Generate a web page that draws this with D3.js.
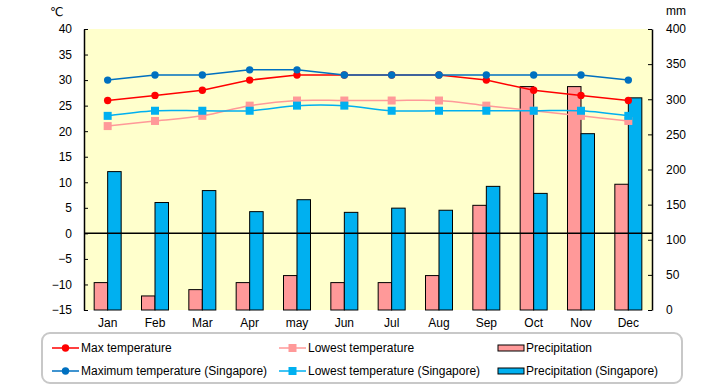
<!DOCTYPE html>
<html>
<head>
<meta charset="utf-8">
<script src="https://cdn.jsdelivr.net/npm/d3@7"></script>
<style>
  body { margin: 0; background: #fff; }
  text { font-family: "Liberation Sans", "DejaVu Sans", sans-serif; font-size: 12px; fill: #000; }
</style>
</head>
<body>
<script>
// Data
var months = ["Jan", "Feb", "Mar", "Apr", "may", "Jun", "Jul", "Aug", "Sep", "Oct", "Nov", "Dec"];
var maxTemp = [26, 27, 28, 30, 31, 31, 31, 31, 30, 28, 27, 26];
var lowTemp = [21, 22, 23, 25, 26, 26, 26, 26, 25, 24, 23, 22];
var maxTempSg = [30, 31, 31, 32, 32, 31, 31, 31, 31, 31, 31, 30];
var lowTempSg = [23, 24, 24, 24, 25, 25, 24, 24, 24, 24, 24, 23];
var precip = [39, 20, 29, 39, 49, 39, 39, 49, 149, 318, 318, 179];
var precipSg = [197, 153, 170, 140, 157, 139, 145, 142, 176, 166, 251, 302];
var tempTicks = [-15, -10, -5, 0, 5, 10, 15, 20, 25, 30, 35, 40];
var mmTicks = [0, 50, 100, 150, 200, 250, 300, 350, 400];

// Plot area
var margin = {top: 29, right: 68, bottom: 75, left: 84};
var outer_width = 720;
var outer_height = 385;
var width = outer_width - margin.left - margin.right;
var height = outer_height - margin.top - margin.bottom;

var svg = d3.select("body")
  .append("svg")
  .attr("width", outer_width)
  .attr("height", outer_height);

var g = svg.append("g")
  .attr("transform", "translate(" + margin.left + "," + margin.top + ")");

// Scales
var xScale = d3.scaleBand().domain(months).range([0, width]);
var yTemp = d3.scaleLinear().domain([-15, 40]).range([height, 0]);
var yMm = d3.scaleLinear().domain([0, 400]).range([height, 0]);
var barW = 13.5;

// background
g.append("rect")
  .attr("width", width)
  .attr("height", height)
  .attr("fill", "#ffffcc");

// Bars
function drawBars(values, color, offset) {
  g.selectAll(null)
    .data(values)
    .enter()
    .append("rect")
    .attr("x", function(d, i) { return xScale(months[i]) + xScale.bandwidth() / 2 + offset; })
    .attr("y", function(d) { return yMm(d); })
    .attr("width", barW)
    .attr("height", function(d) { return height - yMm(d); })
    .attr("fill", color)
    .attr("stroke", "#000")
    .attr("stroke-width", 1);
}
drawBars(precip, "#ff9999", -barW);
drawBars(precipSg, "#00b0f0", 0);

// zero line (category axis)
g.append("line")
  .attr("x1", 0).attr("x2", width)
  .attr("y1", yTemp(0)).attr("y2", yTemp(0))
  .attr("stroke", "#000").attr("stroke-width", 1.5);

// Axes
var leftAxis = d3.axisLeft(yTemp).tickValues(tempTicks).tickSizeInner(-4).tickSizeOuter(0).tickPadding(12);
var rightAxis = d3.axisRight(yMm).tickValues(mmTicks).tickSizeInner(-4).tickSizeOuter(0).tickPadding(14);

var la = g.append("g").call(leftAxis);
var ra = g.append("g").attr("transform", "translate(" + width + ",0)").call(rightAxis);
[la, ra].forEach(function(a) {
  a.select(".domain").attr("stroke", "#000").attr("stroke-width", 1.5);
  a.selectAll(".tick line").attr("stroke", "#000");
  a.selectAll("text").style("font-size", "12px").attr("fill", "#000");
});

// month labels
g.selectAll(".month")
  .data(months)
  .enter()
  .append("text")
  .attr("x", function(d) { return xScale(d) + xScale.bandwidth() / 2; })
  .attr("y", height + 17)
  .attr("text-anchor", "middle")
  .text(function(d) { return d; });

// units
svg.append("text").attr("x", 50).attr("y", 16).text("℃");
svg.append("text").attr("x", 666).attr("y", 15).text("mm");

// Lines
var series = [
  {name: "Max temperature", values: maxTemp, color: "#ff0000", marker: "circle", smooth: false},
  {name: "Lowest temperature", values: lowTemp, color: "#ff9999", marker: "square", smooth: true},
  {name: "Maximum temperature (Singapore)", values: maxTempSg, color: "#0070c0", marker: "circle", smooth: false},
  {name: "Lowest temperature (Singapore)", values: lowTempSg, color: "#00b0f0", marker: "square", smooth: true}
];

function xc(i) { return xScale(months[i]) + xScale.bandwidth() / 2; }

function drawMarker(sel, s, x, y) {
  if (s.marker === "circle") {
    sel.append("circle").attr("cx", x).attr("cy", y).attr("r", 3.7).attr("fill", s.color);
  } else {
    sel.append("rect").attr("x", x - 4).attr("y", y - 4).attr("width", 8).attr("height", 8).attr("fill", s.color);
  }
}

series.forEach(function(s) {
  var line = d3.line()
    .x(function(d, i) { return xc(i); })
    .y(function(d) { return yTemp(d); })
    .curve(s.smooth ? d3.curveCatmullRom.alpha(0.5) : d3.curveLinear);
  var sg = g.append("g");
  sg.append("path")
    .attr("d", line(s.values))
    .attr("fill", "none")
    .attr("stroke", s.color)
    .attr("stroke-width", 1.5);
  s.values.forEach(function(v, i) { drawMarker(sg, s, xc(i), yTemp(v)); });
});

// Legend
svg.append("rect")
  .attr("x", 42).attr("y", 333)
  .attr("width", 640).attr("height", 50)
  .attr("rx", 8)
  .attr("fill", "#fff")
  .attr("stroke", "#c8c8c8")
  .attr("stroke-width", 2);

var legendItems = [
  {s: series[0], x: 52, y: 348},
  {s: series[1], x: 279, y: 348},
  {bar: "#ff9999", name: "Precipitation", x: 498, y: 348},
  {s: series[2], x: 52, y: 371},
  {s: series[3], x: 279, y: 371},
  {bar: "#00b0f0", name: "Precipitation (Singapore)", x: 498, y: 371}
];

legendItems.forEach(function(it) {
  var lg = svg.append("g");
  if (it.s) {
    lg.append("line")
      .attr("x1", it.x).attr("x2", it.x + 27)
      .attr("y1", it.y).attr("y2", it.y)
      .attr("stroke", it.s.color).attr("stroke-width", 1.5);
    drawMarker(lg, it.s, it.x + 13.5, it.y);
    lg.append("text").attr("x", it.x + 29).attr("y", it.y + 4).text(it.s.name);
  } else {
    lg.append("rect")
      .attr("x", it.x).attr("y", it.y - 3)
      .attr("width", 26).attr("height", 6)
      .attr("fill", it.bar).attr("stroke", "#000").attr("stroke-width", 1);
    lg.append("text").attr("x", it.x + 28).attr("y", it.y + 4).text(it.name);
  }
});
</script>
</body>
</html>
